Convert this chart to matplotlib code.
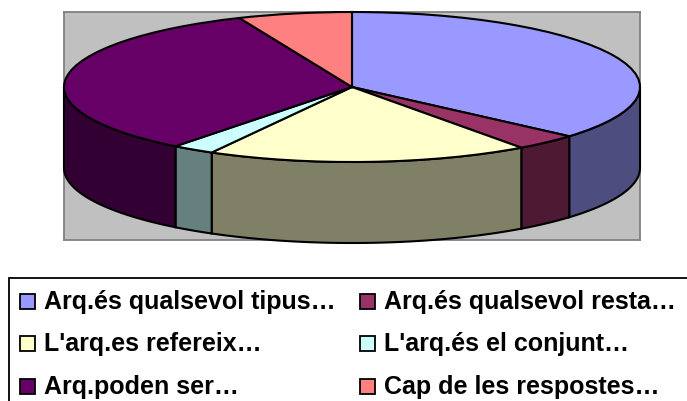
import numpy as np
import matplotlib
matplotlib.use("Agg")
import matplotlib.pyplot as plt
from matplotlib.patches import Rectangle

labels = ["Arq.és qualsevol tipus…", "Arq.és qualsevol resta…", "L'arq.es refereix…",
          "L'arq.és el conjunt…", "Arq.poden ser…", "Cap de les respostes…"]
values = [36.4, 3.6, 18.1, 2.4, 33.1, 6.4]
top_colors = ["#9999ff", "#993366", "#ffffcc", "#ccffff", "#660066", "#ff8080"]
side_colors = ["#4d4d80", "#4d1933", "#808066", "#668080", "#330033", "#804040"]

plt.rcParams["font.family"] = ["Liberation Sans", "DejaVu Sans"]
W, H = 687, 401
fig = plt.figure(figsize=(W / 100, H / 100), dpi=100)

# plot area in pixels, pie top is an ellipse so axes are stretched
left, right, top, bottom = 64, 640, 12, 240
cx, cy, ry, depth = 352.5, 87, 75, 81
ax = fig.add_axes([left / W, 1 - bottom / H, (right - left) / W, (bottom - top) / H])

wedges, _ = ax.pie(values, colors=top_colors, startangle=90, counterclock=False,
                   radius=1, frame=True,
                   wedgeprops=dict(edgecolor="black", linewidth=1.5, zorder=5))
ax.set_aspect("auto")
ax.set_xlim(-1, 1)
ax.set_ylim((cy - bottom) / ry, (cy - top) / ry)
ax.set_xticks([])
ax.set_yticks([])
ax.set_facecolor("#c0c0c0")
for s in ax.spines.values():
    s.set_color("#808080")
    s.set_linewidth(1.3)

# side wall, only the front half (-180..0 deg) shows
d = depth / ry
ends = 90 - np.cumsum(values) / np.sum(values) * 360
starts = np.r_[90, ends[:-1]]
for a0, a1, c in zip(starts, ends, side_colors):
    for shift in (0, -360):
        u0, u1 = max(a1 + shift, -180), min(a0 + shift, 0)
        if u1 > u0:
            t = np.radians(np.linspace(u0, u1, 60))
            xs = np.r_[np.cos(t), np.cos(t[::-1])]
            ys = np.r_[np.sin(t), np.sin(t[::-1]) - d]
            ax.fill(xs, ys, facecolor=c, edgecolor="black", linewidth=1.5,
                    zorder=3, clip_on=False)

# legend box runs off the right and bottom of the picture, so it is drawn by hand
lg = fig.add_axes([0, 0, 1, 1], zorder=-1)
lg.set_xlim(0, W)
lg.set_ylim(H, 0)
lg.axis("off")
lg.add_patch(Rectangle((9, 278), W + 20, H, facecolor="white", edgecolor="black", linewidth=1.3))
col_x = [20, 360]
row_y = [301, 343.5, 386]
for i, (name, c) in enumerate(zip(labels, top_colors)):
    x = col_x[i % 2]
    y = row_y[i // 2]
    lg.add_patch(Rectangle((x, y - 7.5), 15, 15, facecolor=c, edgecolor="black", linewidth=1.3))
    lg.text(x + 24, y + 8, name, fontsize=18, fontweight="bold", va="baseline", color="black")

fig.savefig("out.png", dpi=100)
